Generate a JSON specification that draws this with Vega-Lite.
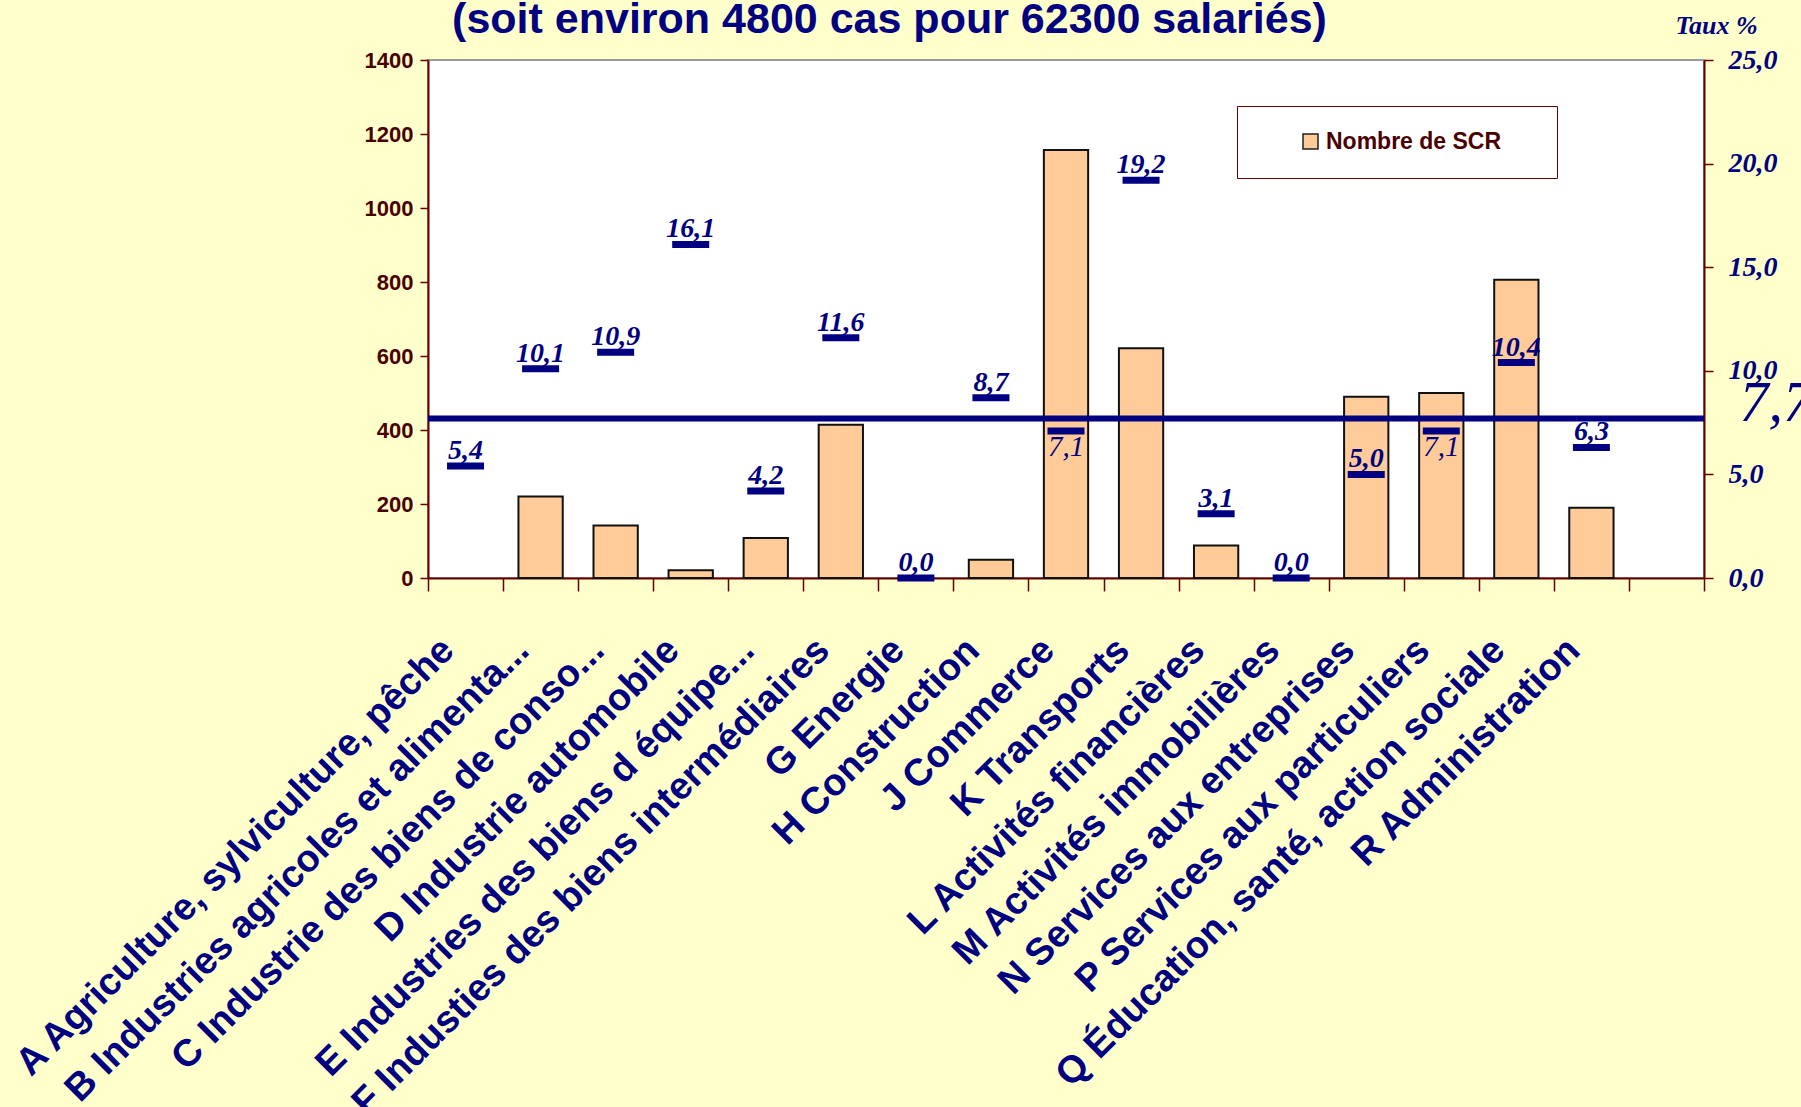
{
  "$schema": "https://vega.github.io/schema/vega-lite/v6.json",
  "autosize": {"type": "none"},
  "width": 1276,
  "height": 518,
  "padding": {"left": 428, "top": 60, "right": 97, "bottom": 529},
  "background": "#FFFFCC",
  "config": {
    "locale": {"number": {"decimal": ",", "thousands": " ", "grouping": [3], "currency": ["", " €"]}},
    "view": {"fill": "white", "stroke": "#999999", "strokeWidth": 2}
  },
  "data": {
    "values": [
      {"secteur": "A Agriculture, sylviculture, pêche", "scr": null, "taux": 5.4},
      {"secteur": "B Industries agricoles et alimenta...", "scr": 220, "taux": 10.1},
      {"secteur": "C Industrie des biens de conso...", "scr": 142, "taux": 10.9},
      {"secteur": "D Industrie automobile", "scr": 21, "taux": 16.1},
      {"secteur": "E Industries des biens d équipe...", "scr": 108, "taux": 4.2},
      {"secteur": "F Industies des biens intermédiaires", "scr": 414, "taux": 11.6},
      {"secteur": "G Energie", "scr": null, "taux": 0.0},
      {"secteur": "H Construction", "scr": 49, "taux": 8.7},
      {"secteur": "J Commerce", "scr": 1157, "taux": 7.1},
      {"secteur": "K Transports", "scr": 621, "taux": 19.2},
      {"secteur": "L Activités financières", "scr": 88, "taux": 3.1},
      {"secteur": "M Activités immobilières", "scr": null, "taux": 0.0},
      {"secteur": "N Services aux entreprises", "scr": 490, "taux": 5.0},
      {"secteur": "P Services aux particuliers", "scr": 500, "taux": 7.1},
      {"secteur": "Q Éducation, santé, action sociale", "scr": 806, "taux": 10.4},
      {"secteur": "R Administration", "scr": 190, "taux": 6.3}
    ]
  },
  "layer": [
    {
      "mark": {"type": "bar", "stroke": "#111111", "strokeWidth": 2, "width": {"band": 0.59}},
      "encoding": {
        "x": {
          "field": "secteur", "type": "nominal", "sort": null,
          "scale": {
            "domain": ["A Agriculture, sylviculture, pêche", "B Industries agricoles et alimenta...", "C Industrie des biens de conso...", "D Industrie automobile", "E Industries des biens d équipe...", "F Industies des biens intermédiaires", "G Energie", "H Construction", "J Commerce", "K Transports", "L Activités financières", "M Activités immobilières", "N Services aux entreprises", "P Services aux particuliers", "Q Éducation, santé, action sociale", "R Administration", " "],
            "paddingInner": 0, "paddingOuter": 0
          },
          "axis": {
            "title": null,
            "labelAngle": -45, "labelAlign": "right", "labelBaseline": "alphabetic",
            "labelFont": "Liberation Sans", "labelFontWeight": "bold", "labelFontSize": 38,
            "labelColor": "#000080", "labelLimit": 0, "labelOverlap": false, "labelFlush": false,
            "labelPadding": 61, "labelOffset": -10,
            "tickBand": "extent", "tickSize": 13, "tickColor": "#660000", "tickWidth": 1.5,
            "domainColor": "#660000", "domainWidth": 2, "grid": false
          }
        },
        "y": {
          "field": "scr", "type": "quantitative",
          "scale": {"domain": [0, 1400], "nice": false},
          "axis": {
            "orient": "left", "title": null, "values": [0, 200, 400, 600, 800, 1000, 1200, 1400], "format": "d",
            "labelFont": "Liberation Sans", "labelFontWeight": "bold", "labelFontSize": 22, "labelColor": "#4A0000",
            "domainColor": "#660000", "domainWidth": 2, "tickColor": "#660000", "tickWidth": 1.5, "tickSize": 8,
            "labelPadding": 7, "grid": false
          }
        },
        "fill": {
          "datum": "Nombre de SCR", "type": "nominal",
          "scale": {"range": ["#FFCC99"]},
          "legend": {
            "orient": "none", "legendX": 809, "legendY": 46,
            "title": "\u00a0", "titleOrient": "right", "titlePadding": 32, "titleFontSize": 22,
            "fillColor": "white", "strokeColor": "#660000", "padding": 24,
            "labelFont": "Liberation Sans", "labelFontWeight": "bold", "labelFontSize": 23, "labelColor": "#4A0000",
            "labelLimit": 0,
            "symbolType": "square", "symbolSize": 225, "symbolStrokeColor": "#222222", "symbolStrokeWidth": 1.5,
            "symbolOffset": 38
          }
        }
      }
    },
    {
      "layer": [
        {
          "mark": {"type": "tick", "color": "#000080", "thickness": 7, "opacity": 1},
          "encoding": {
            "x": {
              "field": "secteur", "type": "nominal", "sort": null,
              "axis": {
                "orient": "top", "labels": false, "ticks": false, "domain": false, "grid": false,
                "title": "(soit environ 4800 cas pour 62300 salariés)",
                "titleFont": "Liberation Sans", "titleFontSize": 43, "titleFontWeight": "bold",
                "titleColor": "#000080", "titleAngle": 0, "titleAlign": "center", "titleBaseline": "alphabetic",
                "titleX": 461, "titleY": -28
              }
            },
            "y": {
              "field": "taux", "type": "quantitative",
              "scale": {"domain": [0, 25], "nice": false},
              "axis": {
                "orient": "right", "title": "Taux %", "values": [0, 5, 10, 15, 20, 25], "format": ".1f",
                "labelFont": "Liberation Serif", "labelFontStyle": "italic", "labelFontWeight": "bold",
                "labelFontSize": 28, "labelColor": "#000080",
                "domainColor": "#660000", "domainWidth": 2, "tickColor": "#660000", "tickWidth": 1.5, "tickSize": 9,
                "labelPadding": 15, "grid": false,
                "titleFont": "Liberation Serif", "titleFontStyle": "italic", "titleFontWeight": "bold",
                "titleFontSize": 26, "titleColor": "#000080", "titleAngle": 0, "titleAlign": "center",
                "titleBaseline": "alphabetic", "titleX": 12, "titleY": -27
              }
            },
            "size": {"value": 37}
          }
        },
        {
          "transform": [{"filter": "datum.secteur != 'J Commerce' && datum.secteur != 'P Services aux particuliers'"}],
          "mark": {"type": "text", "font": "Liberation Serif", "fontStyle": "italic", "fontWeight": "bold", "fontSize": 28, "color": "#000080", "align": "center", "baseline": "alphabetic", "dy": -7},
          "encoding": {
            "x": {"field": "secteur", "type": "nominal", "sort": null},
            "y": {"field": "taux", "type": "quantitative"},
            "text": {"field": "taux", "type": "quantitative", "format": ".1f"}
          }
        },
        {
          "transform": [{"filter": "datum.secteur == 'J Commerce' || datum.secteur == 'P Services aux particuliers'"}],
          "mark": {"type": "text", "font": "Liberation Serif", "fontStyle": "italic", "fontSize": 29, "color": "#000080", "align": "center", "baseline": "alphabetic", "dy": 25},
          "encoding": {
            "x": {"field": "secteur", "type": "nominal", "sort": null},
            "y": {"field": "taux", "type": "quantitative"},
            "text": {"field": "taux", "type": "quantitative", "format": ".1f"}
          }
        },
        {
          "data": {"values": [{"taux": 7.7}]},
          "layer": [
            {
              "mark": {"type": "rule", "color": "#000080", "strokeWidth": 6},
              "encoding": {"y": {"field": "taux", "type": "quantitative"}}
            },
            {
              "mark": {"type": "text", "font": "Liberation Serif", "fontStyle": "italic", "fontSize": 58, "color": "#000080", "align": "left", "baseline": "alphabetic", "dx": 73, "dy": 3},
              "encoding": {
                "x": {"datum": " ", "type": "nominal"},
                "y": {"field": "taux", "type": "quantitative"},
                "text": {"field": "taux", "type": "quantitative", "format": ".1f"}
              }
            }
          ]
        }
      ]
    }
  ],
  "resolve": {"scale": {"y": "independent", "fill": "independent"}, "axis": {"x": "independent"}}
}
